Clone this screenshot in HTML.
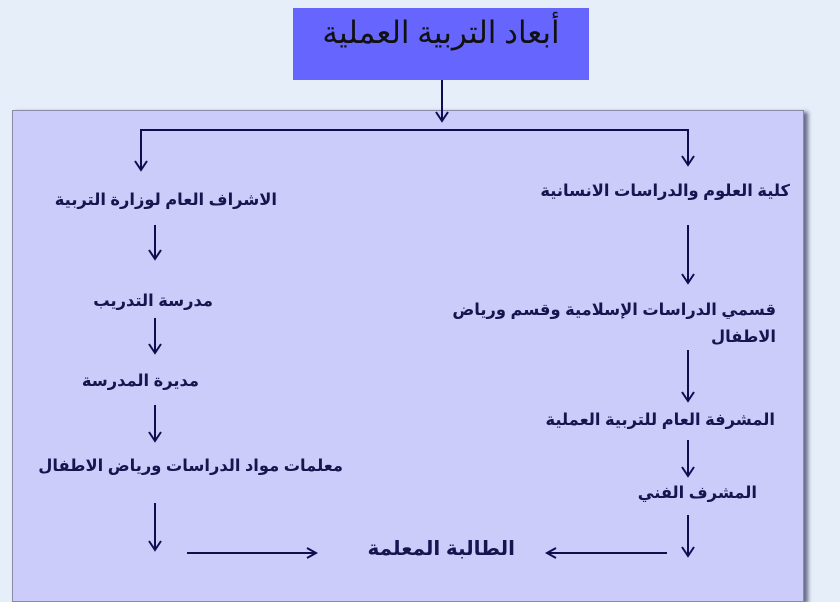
<!DOCTYPE html>
<html><head><meta charset="utf-8"><style>
body{margin:0;width:840px;height:589px;overflow:hidden;background:#e6eef9;position:relative;font-family:"Liberation Sans","DejaVu Sans",sans-serif}
.box{position:absolute;left:12px;top:110px;width:790px;height:490px;background:#ccccfa;border:1px solid #8a8aa8;box-shadow:4px 2px 4px #6a6a8a}
.title{position:absolute;left:293px;top:8px;width:296px;height:72px;background:#6666ff;color:#111;font-size:31px;text-align:center;line-height:50px;font-family:"Liberation Serif","DejaVu Serif",serif}
.t{position:absolute;color:#15154f;font-weight:bold;font-size:16.3px;white-space:nowrap;direction:rtl;line-height:20px}
svg{position:absolute;left:0;top:0}
</style></head><body>
<div class="box"></div>
<div class="title">أبعاد التربية العملية</div>
<svg width="840" height="589" fill="none" stroke="#0d0d50" stroke-width="2">
<path d="M442 80V120M436 112L442 121L448 112"/>
<path d="M141 169V130H688V164"/>
<path d="M135 161L141 170L147 161M682 156L688 165L694 156"/>
<g>
<path d="M155 225V258M149 250L155 259L161 250"/>
<path d="M155 318V352M149 344L155 353L161 344"/>
<path d="M155 405V440M149 432L155 441L161 432"/>
<path d="M155 503V549M149 541L155 550L161 541"/>
<path d="M688 225V282M682 274L688 283L694 274"/>
<path d="M688 350V400M682 392L688 401L694 392"/>
<path d="M688 440V475M682 467L688 476L694 467"/>
<path d="M688 515V555M682 547L688 556L694 547"/>
<path d="M187 553H315M307 548L316 553L307 558"/>
<path d="M667 553H548M556 548L547 553L556 558"/>
</g>
</svg>
<div class="t" style="right:563px;top:190px">الاشراف العام لوزارة التربية</div>
<div class="t" style="right:50px;top:181px">كلية العلوم والدراسات الانسانية</div>
<div class="t" style="right:627px;top:291px">مدرسة التدريب</div>
<div class="t" style="right:641px;top:371px">مديرة المدرسة</div>
<div class="t" style="right:497px;top:456px">معلمات مواد الدراسات ورياض الاطفال</div>
<div class="t" style="right:64px;top:300px">قسمي الدراسات الإسلامية وقسم ورياض</div>
<div class="t" style="right:64px;top:327px">الاطفال</div>
<div class="t" style="right:65px;top:410px">المشرفة العام للتربية العملية</div>
<div class="t" style="right:83px;top:483px">المشرف الفني</div>
<div class="t" style="right:325px;top:537px;font-size:20px;line-height:24px">الطالبة المعلمة</div>
</body></html>
